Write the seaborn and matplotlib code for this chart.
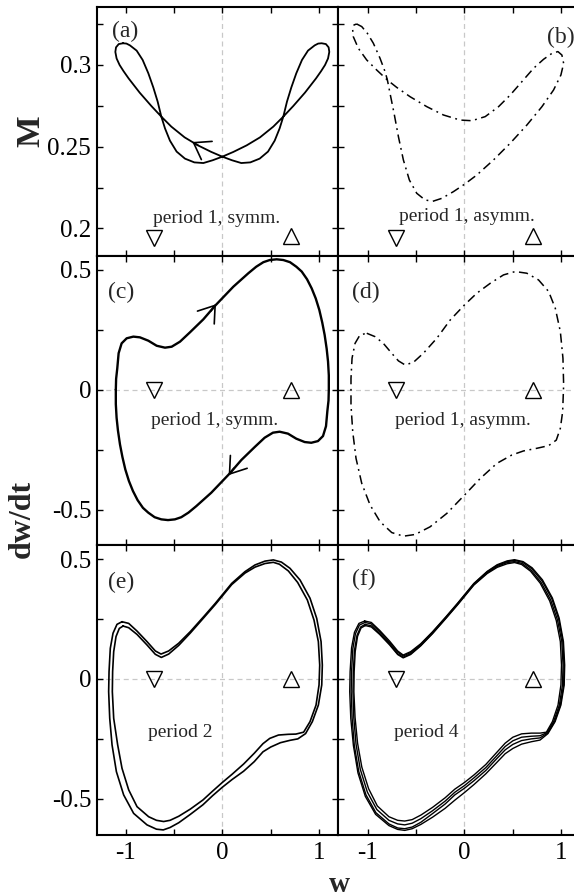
import numpy as np
import matplotlib
matplotlib.use("Agg")
import matplotlib.pyplot as plt
import seaborn as sns

# ---------------- data ----------------
# (a) w vs M, period 1 symmetric
A_CURVE = [(-1.026,0.3133),(-0.990,0.3131),(-0.954,0.3120),(-0.885,0.3088),(-0.823,0.3031),(-0.764,0.2949),
           (-0.713,0.2863),(-0.668,0.2776),(-0.630,0.2684),(-0.592,0.2612),(-0.541,0.2537),(-0.472,0.2470),
           (-0.386,0.2427),(-0.289,0.2404),(-0.196,0.2400),(-0.100,0.2417),(0.0,0.2439),(0.114,0.2468),
           (0.251,0.2508),(0.389,0.2557),(0.527,0.2623),(0.630,0.2684),(0.733,0.2749),(0.854,0.2831),
           (0.968,0.2918),(1.020,0.2962),(1.061,0.3000),(1.092,0.3040),(1.105,0.3080),(1.098,0.3108),
           (1.070,0.3128),(1.026,0.3133),(0.990,0.3131),(0.954,0.3120),(0.885,0.3088),(0.823,0.3031),
           (0.764,0.2949),(0.713,0.2863),(0.668,0.2776),(0.630,0.2684),(0.592,0.2612),(0.541,0.2537),
           (0.472,0.2470),(0.386,0.2427),(0.289,0.2404),(0.196,0.2400),(0.100,0.2417),(0.0,0.2439),
           (-0.114,0.2468),(-0.251,0.2508),(-0.389,0.2557),(-0.527,0.2623),(-0.630,0.2684),(-0.733,0.2749),
           (-0.854,0.2831),(-0.968,0.2918),(-1.020,0.2962),(-1.061,0.3000),(-1.092,0.3040),(-1.105,0.3080),
           (-1.098,0.3108),(-1.070,0.3128),(-1.026,0.3133)]
# (b) w vs M, period 1 asymmetric
B_CURVE = [(-1.113,0.3251),(-1.061,0.3235),(-1.003,0.3194),(-0.941,0.3133),(-0.872,0.3041),(-0.820,0.2959),
           (-0.796,0.2908),(-0.769,0.2827),(-0.727,0.2704),(-0.682,0.2561),(-0.631,0.2419),(-0.569,0.2296),
           (-0.493,0.2215),(-0.407,0.2174),(-0.327,0.2166),(-0.234,0.2184),(-0.114,0.2225),(0.0,0.2270),
           (0.128,0.2327),(0.300,0.2419),(0.472,0.2521),(0.645,0.2633),(0.800,0.2745),(0.920,0.2847),
           (0.996,0.2939),(1.024,0.3010),(1.006,0.3061),(0.965,0.3082),(0.903,0.3071),(0.817,0.3035),
           (0.714,0.2980),(0.593,0.2898),(0.472,0.2816),(0.352,0.2745),(0.214,0.2684),(0.076,0.2659),
           (-0.045,0.2663),(-0.217,0.2694),(-0.389,0.2745),(-0.562,0.2806),(-0.700,0.2863),(-0.796,0.2908),
           (-0.906,0.2969),(-1.010,0.3031),(-1.096,0.3102),(-1.148,0.3173),(-1.155,0.3218),(-1.141,0.3245),
           (-1.113,0.3251)]
# (c) w vs dw/dt, period 1 symmetric
C_CURVE = [(-1.100,0.000),(-1.097,0.045),(-1.085,0.089),(-1.071,0.152),(-1.040,0.193),(-0.988,0.214),
           (-0.919,0.221),(-0.851,0.218),(-0.764,0.204),(-0.678,0.183),(-0.592,0.175),(-0.523,0.179),
           (-0.437,0.200),(-0.334,0.239),(-0.196,0.293),(-0.076,0.349),(0.0,0.381),(0.114,0.429),
           (0.269,0.485),(0.350,0.512),(0.424,0.531),(0.490,0.540),(0.561,0.543),(0.630,0.540),
           (0.699,0.531),(0.765,0.512),(0.820,0.492),(0.875,0.460),(0.923,0.422),(0.965,0.380),
           (1.002,0.332),(1.032,0.280),(1.057,0.228),(1.078,0.170),(1.092,0.117),(1.100,0.060),
           (1.100,0.000),(1.097,-0.045),(1.085,-0.089),(1.071,-0.152),(1.040,-0.193),(0.988,-0.214),
           (0.919,-0.221),(0.851,-0.218),(0.764,-0.204),(0.678,-0.183),(0.592,-0.175),(0.523,-0.179),
           (0.437,-0.200),(0.334,-0.239),(0.196,-0.293),(0.076,-0.349),(0.0,-0.381),(-0.114,-0.429),
           (-0.269,-0.485),(-0.350,-0.512),(-0.424,-0.531),(-0.490,-0.540),(-0.561,-0.543),(-0.630,-0.540),
           (-0.699,-0.531),(-0.765,-0.512),(-0.820,-0.492),(-0.875,-0.460),(-0.923,-0.422),(-0.965,-0.380),
           (-1.002,-0.332),(-1.032,-0.280),(-1.057,-0.228),(-1.078,-0.170),(-1.092,-0.117),(-1.100,-0.060),
           (-1.100,0.000)]
# (d) w vs dw/dt, period 1 asymmetric
D_CURVE = [(-1.009,0.235),(-0.924,0.221),(-0.838,0.193),(-0.752,0.152),(-0.682,0.120),(-0.613,0.103),
           (-0.527,0.114),(-0.424,0.152),(-0.286,0.214),(-0.148,0.290),(0.0,0.353),(0.128,0.402),
           (0.266,0.443),(0.403,0.478),(0.524,0.492),(0.644,0.485),(0.765,0.457),(0.869,0.409),
           (0.938,0.339),(0.990,0.242),(1.017,0.131),(1.024,0.020),(1.014,-0.091),(0.990,-0.161),
           (0.948,-0.210),(0.869,-0.233),(0.748,-0.244),(0.610,-0.255),(0.489,-0.272),(0.334,-0.307),
           (0.162,-0.370),(0.0,-0.439),(-0.182,-0.515),(-0.355,-0.571),(-0.510,-0.603),(-0.630,-0.610),
           (-0.751,-0.595),(-0.871,-0.550),(-0.975,-0.480),(-1.061,-0.390),(-1.120,-0.286),(-1.154,-0.175),
           (-1.172,-0.064),(-1.172,0.047),(-1.161,0.131),(-1.130,0.193),(-1.079,0.228),(-1.009,0.235)]
# (e) period 2: two loops
E_OUTER = [(-1.036,0.239),(-0.967,0.232),(-0.881,0.200),(-0.778,0.156),(-0.692,0.117),(-0.633,0.104),
           (-0.554,0.117),(-0.451,0.149),(-0.330,0.198),(-0.193,0.260),(-0.072,0.316),(0.097,0.399),
           (0.234,0.448),(0.338,0.476),(0.441,0.492),(0.527,0.497),(0.610,0.488),(0.699,0.462),
           (0.803,0.413),(0.906,0.337),(0.975,0.253),(1.020,0.156),(1.033,0.058),(1.027,-0.025),
           (0.992,-0.109),(0.930,-0.178),(0.860,-0.228),(0.780,-0.250),(0.700,-0.256),(0.600,-0.266),
           (0.500,-0.284),(0.420,-0.304),(0.330,-0.345),(0.220,-0.385),(0.100,-0.420),(0.000,-0.452),
           (-0.100,-0.487),(-0.200,-0.525),(-0.330,-0.565),(-0.450,-0.600),(-0.540,-0.620),(-0.610,-0.630),
           (-0.680,-0.627),(-0.778,-0.609),(-0.916,-0.561),(-1.019,-0.484),(-1.094,-0.387),(-1.139,-0.275),
           (-1.163,-0.164),(-1.174,-0.053),(-1.170,0.031),(-1.157,0.128),(-1.129,0.191),(-1.088,0.228),
           (-1.036,0.239)]
E_INNER = [(-1.025,0.221),(-0.967,0.214),(-0.881,0.186),(-0.778,0.142),(-0.692,0.103),(-0.630,0.090),
           (-0.554,0.104),(-0.451,0.140),(-0.330,0.192),(-0.193,0.255),(-0.072,0.311),(0.097,0.394),
           (0.234,0.442),(0.338,0.467),(0.441,0.482),(0.527,0.487),(0.590,0.479),(0.682,0.451),
           (0.778,0.403),(0.878,0.330),(0.947,0.246),(0.992,0.156),(1.006,0.058),(0.999,-0.025),
           (0.968,-0.109),(0.906,-0.178),(0.840,-0.222),(0.760,-0.230),(0.680,-0.231),(0.580,-0.234),
           (0.490,-0.248),(0.420,-0.270),(0.330,-0.310),(0.220,-0.355),(0.100,-0.398),(0.000,-0.432),
           (-0.100,-0.468),(-0.200,-0.505),(-0.330,-0.543),(-0.450,-0.573),(-0.540,-0.590),(-0.606,-0.595),
           (-0.680,-0.590),(-0.761,-0.575),(-0.881,-0.533),(-0.967,-0.463),(-1.036,-0.373),(-1.081,-0.275),
           (-1.122,-0.164),(-1.136,-0.053),(-1.133,0.031),(-1.122,0.114),(-1.098,0.177),(-1.064,0.211),
           (-1.025,0.221)]
# (f) period 4: four loops
F_LOOP1 = [(-1.030,0.242),(-0.962,0.236),(-0.876,0.203),(-0.773,0.158),(-0.690,0.117),(-0.633,0.100),
           (-0.556,0.114),(-0.452,0.147),(-0.330,0.197),(-0.193,0.259),(-0.072,0.316),(0.097,0.399),
           (0.234,0.449),(0.338,0.477),(0.441,0.493),(0.517,0.498),(0.605,0.490),(0.699,0.464),
           (0.805,0.414),(0.908,0.338),(0.978,0.254),(1.022,0.156),(1.035,0.058),(1.030,-0.025),
           (0.996,-0.109),(0.936,-0.178),(0.862,-0.228),(0.780,-0.255),(0.690,-0.262),(0.590,-0.272),
           (0.500,-0.290),(0.420,-0.312),(0.330,-0.350),(0.220,-0.396),(0.100,-0.440),(0.000,-0.474),
           (-0.100,-0.506),(-0.200,-0.540),(-0.330,-0.577),(-0.450,-0.607),(-0.540,-0.625),(-0.617,-0.632),
           (-0.690,-0.628),(-0.780,-0.612),(-0.918,-0.565),(-1.024,-0.490),(-1.100,-0.392),(-1.147,-0.278),
           (-1.174,-0.165),(-1.185,-0.053),(-1.181,0.031),(-1.166,0.130),(-1.136,0.195),(-1.090,0.232),
           (-1.030,0.242)]
F_LOOP2 = [(-1.028,0.236),(-0.962,0.230),(-0.876,0.197),(-0.773,0.152),(-0.690,0.112),(-0.633,0.096),
           (-0.556,0.110),(-0.452,0.144),(-0.330,0.195),(-0.193,0.257),(-0.072,0.314),(0.097,0.397),
           (0.234,0.447),(0.338,0.474),(0.441,0.490),(0.517,0.495),(0.600,0.487),(0.695,0.460),
           (0.800,0.410),(0.902,0.335),(0.972,0.251),(1.016,0.156),(1.028,0.058),(1.024,-0.025),
           (0.990,-0.109),(0.930,-0.178),(0.858,-0.226),(0.780,-0.246),(0.690,-0.250),(0.590,-0.257),
           (0.500,-0.273),(0.420,-0.296),(0.330,-0.334),(0.220,-0.382),(0.100,-0.424),(0.000,-0.456),
           (-0.100,-0.484),(-0.200,-0.522),(-0.330,-0.562),(-0.450,-0.598),(-0.540,-0.618),(-0.617,-0.625),
           (-0.690,-0.622),(-0.780,-0.605),(-0.915,-0.558),(-1.018,-0.483),(-1.092,-0.386),(-1.138,-0.276),
           (-1.160,-0.164),(-1.170,-0.053),(-1.166,0.031),(-1.153,0.126),(-1.126,0.189),(-1.085,0.225),
           (-1.028,0.236)]
F_LOOP3 = [(-1.026,0.228),(-0.962,0.222),(-0.876,0.190),(-0.773,0.146),(-0.690,0.105),(-0.633,0.091),
           (-0.556,0.105),(-0.452,0.140),(-0.330,0.191),(-0.193,0.254),(-0.072,0.311),(0.097,0.394),
           (0.234,0.443),(0.338,0.470),(0.441,0.486),(0.517,0.490),(0.595,0.482),(0.688,0.454),
           (0.790,0.404),(0.890,0.330),(0.960,0.247),(1.005,0.156),(1.018,0.058),(1.012,-0.025),
           (0.980,-0.109),(0.920,-0.178),(0.852,-0.224),(0.780,-0.237),(0.690,-0.239),(0.590,-0.243),
           (0.500,-0.258),(0.420,-0.282),(0.330,-0.322),(0.220,-0.370),(0.100,-0.412),(0.000,-0.445),
           (-0.100,-0.473),(-0.200,-0.510),(-0.330,-0.550),(-0.450,-0.583),(-0.540,-0.602),(-0.617,-0.609),
           (-0.690,-0.605),(-0.780,-0.590),(-0.905,-0.545),(-1.003,-0.472),(-1.076,-0.377),(-1.120,-0.272),
           (-1.143,-0.162),(-1.152,-0.053),(-1.148,0.031),(-1.136,0.120),(-1.110,0.182),(-1.072,0.217),
           (-1.026,0.228)]
F_LOOP4 = [(-1.024,0.223),(-0.962,0.217),(-0.876,0.186),(-0.773,0.142),(-0.690,0.102),(-0.633,0.088),
           (-0.556,0.102),(-0.452,0.138),(-0.330,0.189),(-0.193,0.252),(-0.072,0.309),(0.097,0.392),
           (0.234,0.440),(0.338,0.466),(0.441,0.481),(0.517,0.486),(0.590,0.478),(0.682,0.450),
           (0.782,0.400),(0.880,0.326),(0.948,0.244),(0.990,0.156),(1.002,0.058),(0.996,-0.025),
           (0.966,-0.109),(0.908,-0.178),(0.846,-0.222),(0.780,-0.226),(0.690,-0.226),(0.590,-0.229),
           (0.500,-0.243),(0.420,-0.268),(0.330,-0.308),(0.220,-0.357),(0.100,-0.400),(0.000,-0.432),
           (-0.100,-0.460),(-0.200,-0.496),(-0.330,-0.536),(-0.450,-0.568),(-0.540,-0.587),(-0.617,-0.593),
           (-0.690,-0.590),(-0.780,-0.575),(-0.900,-0.530),(-0.990,-0.458),(-1.060,-0.368),(-1.104,-0.268),
           (-1.130,-0.160),(-1.142,-0.053),(-1.139,0.031),(-1.128,0.115),(-1.104,0.178),(-1.068,0.213),
           (-1.024,0.223)]

# fixed points (triangles)
FIX_W = [-0.707, 0.707]
FIX_M = [0.194, 0.1955]
FIX_V = [0.0, 0.0]

PANEL_LABELS = ["(a)", "(b)", "(c)", "(d)", "(e)", "(f)"]
PANEL_TEXTS = ["period 1, symm.", "period 1, asymm.", "period 1, symm.",
               "period 1, asymm.", "period 2", "period 4"]

XTICKS = [-1, -0.5, 0, 0.5, 1]
XTICKLABELS = ["-1", "", "0", "", "1"]
MTICKS = [0.2, 0.225, 0.25, 0.275, 0.3, 0.325]
MTICKLABELS = ["0.2", "", "0.25", "", "0.3", ""]
VTICKS = [-0.5, -0.25, 0, 0.25, 0.5]
VTICKLABELS = ["-0.5", "", "0", "", "0.5"]

# ---------------- style ----------------
sns.set_theme(style="white")
plt.rcParams["font.family"] = ["Liberation Serif", "DejaVu Serif"]
plt.rcParams["axes.edgecolor"] = "black"
plt.rcParams["axes.linewidth"] = 1.5
plt.rcParams["xtick.color"] = "black"
plt.rcParams["ytick.color"] = "black"

fig = plt.figure(figsize=(5.74, 8.96), dpi=100)
W, H = 574.0, 896.0

def axes_at(x0, y_top, w, h):
    return fig.add_axes([x0 / W, 1 - (y_top + h) / H, w / W, h / H])

PW = 241.6
rows = [(7.3, 248.4), (255.7, 289.6), (545.3, 289.4)]
cols = [96.7, 338.3]

axes = {}
names = [["a", "b"], ["c", "d"], ["e", "f"]]
for r, (yt, hh) in enumerate(rows):
    for c, x0 in enumerate(cols):
        axes[names[r][c]] = axes_at(x0, yt, PW, hh)

GRAY = "#c8c8c8"

def curve(ax, pts, lw=1.2, ls="-"):
    arr = np.array(pts)
    sns.lineplot(x=arr[:, 0], y=arr[:, 1], sort=False, estimator=None, ax=ax,
                 color="black", lw=lw, linestyle=ls)

def tri(ax, w, y, marker):
    sns.lineplot(x=[w], y=[y], ax=ax, marker=marker, linestyle="", ms=11,
                 markerfacecolor="none", markeredgecolor="black", markeredgewidth=1.0,
                 color="black", estimator=None)

DASHDOT = (0, (6, 3, 1.2, 3))

curve(axes["a"], A_CURVE, lw=1.3)
curve(axes["b"], B_CURVE, lw=1.1, ls=DASHDOT)
curve(axes["c"], C_CURVE, lw=1.7)
curve(axes["d"], D_CURVE, lw=1.1, ls=DASHDOT)
curve(axes["e"], E_OUTER, lw=1.2)
curve(axes["e"], E_INNER, lw=1.2)
for loop in (F_LOOP1, F_LOOP2, F_LOOP3, F_LOOP4):
    curve(axes["f"], loop, lw=1.0)

for key, ax in axes.items():
    ax.axvline(0, color=GRAY, lw=0.9, ls=(0, (4, 3)), zorder=0)
    if key in "cdef":
        ax.axhline(0, color=GRAY, lw=0.9, ls=(0, (4, 3)), zorder=0)
    if key in "ab":
        tri(ax, FIX_W[0], FIX_M[0], "v")
        tri(ax, FIX_W[1], FIX_M[1], "^")
    else:
        tri(ax, FIX_W[0], FIX_V[0], "v")
        tri(ax, FIX_W[1], FIX_V[1], "^")

# limits & ticks
for key, ax in axes.items():
    left = key in "ace"
    ax.set_xlim(-1.2975, 1.198) if left else ax.set_xlim(-1.303, 1.192)
    if key in "ab":
        ax.set_ylim(0.1833, 0.3353)
        ax.set_yticks(MTICKS)
        ax.set_yticklabels(MTICKLABELS if left else [""] * len(MTICKS))
    elif key in "cd":
        ax.set_ylim(-0.648, 0.558)
        ax.set_yticks(VTICKS)
        ax.set_yticklabels(VTICKLABELS if left else [""] * len(VTICKS))
    else:
        ax.set_ylim(-0.650, 0.558)
        ax.set_yticks(VTICKS)
        ax.set_yticklabels(VTICKLABELS if left else [""] * len(VTICKS))
    ax.set_xticks(XTICKS)
    ax.set_xticklabels(XTICKLABELS if key in "ef" else [""] * len(XTICKS))
    ax.tick_params(direction="in", top=True, right=True, bottom=True, left=True,
                   length=4, width=1.0, labelsize=18, pad=5)
    ax.tick_params(axis="y", pad=4)
    ax.set_xlabel("")
    ax.set_ylabel("")
    for sp in ax.spines.values():
        sp.set_linewidth(1.5)
        sp.set_color("black")

# panel labels
label_pos = {"a": (-1.14, 0.3208), "b": (0.855, 0.3168), "c": (-1.18, 0.405),
             "d": (-1.16, 0.407), "e": (-1.18, 0.405), "f": (-1.16, 0.417)}
for key, lab in zip("abcdef", PANEL_LABELS):
    x, y = label_pos[key]
    axes[key].text(x, y, lab, ha="left", va="center", fontsize=17)

text_pos = {"a": (-0.055, 0.2058), "b": (0.02, 0.2075), "c": (-0.075, -0.13),
            "d": (-0.02, -0.13), "e": (-0.43, -0.225), "f": (-0.39, -0.225)}
for key, t in zip("abcdef", PANEL_TEXTS):
    x, y = text_pos[key]
    axes[key].text(x, y, t, ha="center", va="center", fontsize=14)

# direction arrows
ARW = dict(arrowstyle="->,head_length=0.55,head_width=0.38", lw=1.2, color="black",
           shrinkA=0, shrinkB=0, mutation_scale=20)
axes["a"].annotate("", xy=(-0.31, 0.2529), xytext=(-0.25, 0.2508), arrowprops=ARW)
axes["c"].annotate("", xy=(-0.065, 0.356), xytext=(-0.120, 0.327), arrowprops=ARW)
axes["c"].annotate("", xy=(0.065, -0.356), xytext=(0.120, -0.327), arrowprops=ARW)

# axis titles
fig.text(31 / W, 1 - 131 / H, "M", rotation=90, ha="center", va="center",
         fontsize=24, fontweight="bold")
fig.text(22 / W, 1 - 519 / H, "dw/dt", rotation=90, ha="center", va="center",
         fontsize=23, fontweight="bold")
fig.text(339 / W, 1 - 884 / H, "w", ha="center", va="center",
         fontsize=21, fontweight="bold")

fig.savefig("out.png", dpi=100)
